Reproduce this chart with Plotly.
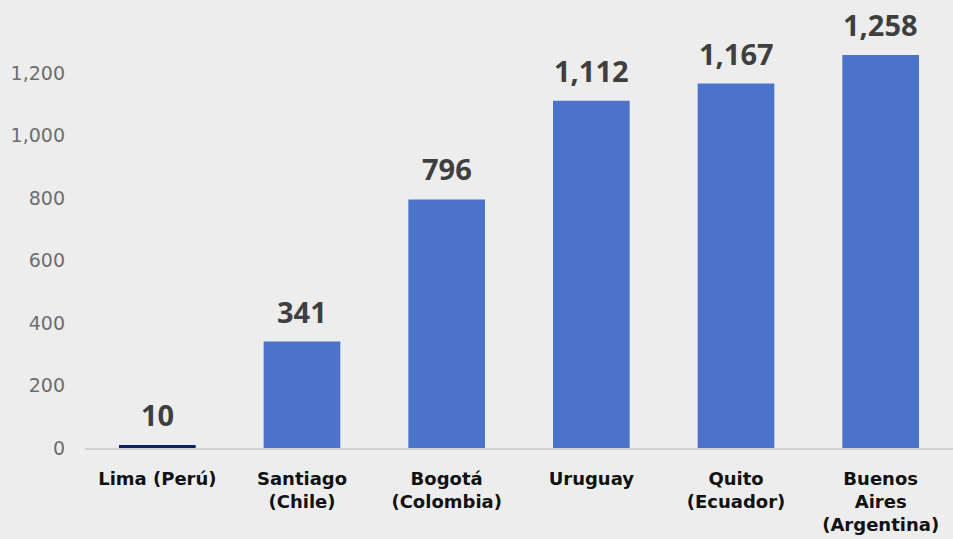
import plotly.graph_objects as go

cities = [
    "Lima (Perú)",
    "Santiago<br>(Chile)",
    "Bogotá<br>(Colombia)",
    "Uruguay",
    "Quito<br>(Ecuador)",
    "Buenos<br>Aires<br>(Argentina)",
]
values = [10, 341, 796, 1112, 1167, 1258]
bar_colors = ["#0c2161", "#4a73c9", "#4a73c9", "#4a73c9", "#4a73c9", "#4a73c9"]

fig = go.Figure()

fig.add_trace(
    go.Bar(
        x=cities,
        y=values,
        marker=dict(color=bar_colors, line=dict(width=0)),
        width=0.53,
        hoverinfo="x+y",
    )
)

# value labels above the bars
for city, v in zip(cities, values):
    fig.add_annotation(
        x=city,
        y=v,
        text=f"{v:,}",
        showarrow=False,
        yanchor="bottom",
        yshift=9,
        font=dict(family="Open Sans", size=29, color="#3f3f3f", weight="bold"),
    )

fig.update_layout(
    width=953,
    height=539,
    margin=dict(l=85, r=0, t=42, b=91),
    plot_bgcolor="#ededed",
    paper_bgcolor="#ededed",
    showlegend=False,
    font=dict(family="DejaVu Sans", size=17, color="#6d6d6d"),
)

fig.update_xaxes(
    showgrid=False,
    showline=True,
    linecolor="#d2d2d2",
    linewidth=2,
    ticks="",
    tickangle=0,
    ticklabelstandoff=13,
    tickfont=dict(family="DejaVu Sans", size=18, color="#111111", weight="bold"),
)

fig.update_yaxes(
    range=[0, 1300],
    tickvals=[0, 200, 400, 600, 800, 1000, 1200],
    tickformat=",",
    showgrid=False,
    zeroline=False,
    showline=False,
    ticklabelstandoff=19,
    tickfont=dict(family="DejaVu Sans", size=19, color="#6d6d6d"),
)

fig.write_html(
    "out.html",
    config={"displayModeBar": False},
    post_script="document.body.style.margin='0';document.body.style.background='#ededed';",
)
